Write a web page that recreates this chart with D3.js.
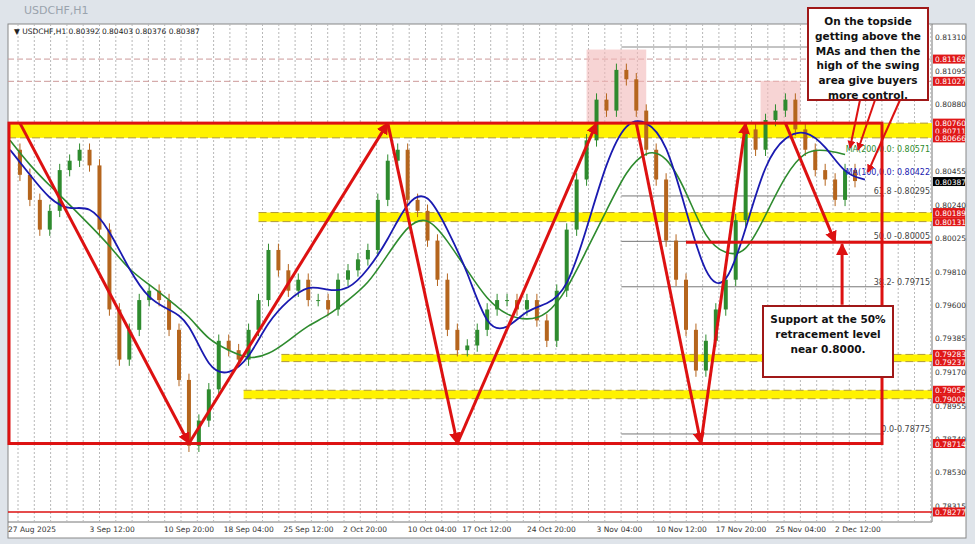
<!DOCTYPE html>
<html lang="en">
<head>
<meta charset="UTF-8" />
<title>USDCHF H1</title>
<script src="https://d3js.org/d3.v7.min.js"></script>
<style>
  body { margin: 0; background: #e9ecf0; font-family: "DejaVu Sans", sans-serif; }
  svg { display: block; }
</style>
</head>
<body>
<svg id="chart" width="975" height="544"></svg>
<script>
// closes every ~2.5 bars (step index -> time)
const closes = [0.8059,0.8043,0.8027,0.8008,0.8020,0.8046,0.8052,0.8059,0.8049,0.8008,
  0.7957,0.7925,0.7944,0.7963,0.7969,0.7963,0.7944,0.7912,0.7870,0.7886,
  0.7906,0.7937,0.7931,0.7925,0.7944,0.7963,0.7995,0.7982,0.7969,0.7976,
  0.7963,0.7963,0.7957,0.7976,0.7982,0.7989,0.7995,0.8027,0.8052,0.8059,
  0.8027,0.8020,0.8001,0.7976,0.7944,0.7931,0.7934,0.7944,0.7957,0.7963,
  0.7963,0.7957,0.7963,0.7950,0.7937,0.7969,0.8008,0.8040,0.8065,0.8091,
  0.8084,0.8110,0.8104,0.8084,0.8059,0.8040,0.8001,0.7976,0.7944,0.7918,
  0.7937,0.7957,0.7976,0.8014,0.8072,0.8059,0.8078,0.8084,0.8091,0.8072,
  0.8059,0.8046,0.8040,0.8027,0.8046,0.8039];
// moving averages sampled every 2 steps
const blueMA = [0.8059,0.8043,0.8027,0.8020,0.8024,0.8008,0.7982,0.7963,0.7957,0.7950,
  0.7918,0.7915,0.7925,0.7950,0.7963,0.7973,0.7969,0.7969,0.7982,0.8001,0.8027,0.8033,
  0.8008,0.7982,0.7944,0.7944,0.7957,0.7960,0.7969,0.8008,0.8052,0.8078,0.8078,
  0.8065,0.8020,0.7976,0.7969,0.8008,0.8052,0.8068,0.8072,0.8062,0.8043,0.8040];
const greenMA = [0.8065,0.8049,0.8036,0.8024,0.8011,0.7998,0.7982,0.7973,0.7963,0.7953,
  0.7937,0.7931,0.7925,0.7928,0.7937,0.7947,0.7953,0.7963,0.7973,0.7992,0.8011,0.8017,
  0.8001,0.7982,0.7963,0.7953,0.7950,0.7953,0.7969,0.7995,0.8020,0.8046,0.8059,
  0.8056,0.8033,0.8001,0.7992,0.7992,0.8017,0.8043,0.8059,0.8059,0.8056];
const tickLabels = ["27 Aug 2025","3 Sep 12:00","10 Sep 20:00","18 Sep 04:00","25 Sep 12:00",
  "2 Oct 20:00","10 Oct 04:00","17 Oct 12:00","24 Oct 20:00","3 Nov 04:00","10 Nov 12:00",
  "17 Nov 20:00","25 Nov 04:00","2 Dec 12:00"];
const tickIdx = [-0.2,8,15.5,21.5,27.5,33.5,40,45.5,52,59,65,71,77,83];
const axisPrices = [0.81310,0.81095,0.80880,0.80455,0.80240,0.80025,0.79810,0.79600,0.79385,0.79170,0.78955,0.78740,0.78530,0.78315];
const redTags = [0.81169,0.81027,0.80760,0.80711,0.80666,0.80189,0.80131,0.79283,0.79237,0.79054,0.79000,0.78714,0.78277];
const lastPrice = 0.80387;
const bands = [[0.80760,0.80666,-0.2],[0.80189,0.80131,25],[0.79283,0.79237,27.3],[0.79054,0.79000,23.5]];
const fibs = [["61.8 -0.80295",0.80295],["50.0 -0.80005",0.80005],["38.2- 0.79715",0.79715],["0.0-0.78775",0.78775]];
const zigzag = [[1,0.8076],[18,0.78714],[38,0.8076],[45,0.78714],[59,0.8076],[63,0.8076],[69.5,0.78714],[74,0.8076],[78,0.8076],[83,0.8000]];
const pinkZones = [[17.5,19.5,0.78714,0.7826],[58,64,0.8076,0.8123],[75.5,79.5,0.8076,0.8103]];

const svg = d3.select("#chart");
const L = 8, R = 932, T = 24, B = 522;
const x = d3.scaleLinear().domain([0, 85]).range([10, 855]);
const y = d3.scaleLinear().domain([0.78315, 0.81310]).range([506, 37]);

svg.append("rect").attr("x", 0).attr("y", 0).attr("width", 975).attr("height", 544).attr("fill", "#dfe4ea");
svg.append("text").attr("x", 24).attr("y", 14).attr("font-size", 11).attr("fill", "#9aa3ad").text("USDCHF,H1");
svg.append("rect").attr("x", L).attr("y", T).attr("width", 958).attr("height", B - T + 16).attr("fill", "#fff").attr("stroke", "#888");
svg.append("line").attr("x1", R).attr("x2", R).attr("y1", T).attr("y2", B).attr("stroke", "#777");
svg.append("line").attr("x1", L).attr("x2", R).attr("y1", B).attr("y2", B).attr("stroke", "#777");

// vertical dotted grid
for (let gx = 18; gx < R; gx += 16.3) {
  svg.append("line").attr("x1", gx).attr("x2", gx).attr("y1", T).attr("y2", B)
    .attr("stroke", "#b8b8b8").attr("stroke-dasharray", "2,2");
}
// dashed reference lines
[0.81169, 0.81027].forEach(p => svg.append("line").attr("x1", L).attr("x2", R).attr("y1", y(p)).attr("y2", y(p))
  .attr("stroke", "#c99").attr("stroke-dasharray", "6,3"));

// pink zones
pinkZones.forEach(z => svg.append("rect").attr("x", x(z[0])).attr("width", x(z[1]) - x(z[0]))
  .attr("y", y(z[3])).attr("height", y(z[2]) - y(z[3])).attr("fill", "#f2b8b8").attr("opacity", 0.6));

// yellow bands
bands.forEach(b => {
  svg.append("rect").attr("x", x(b[2])).attr("width", R - x(b[2])).attr("y", y(b[0])).attr("height", y(b[1]) - y(b[0])).attr("fill", "#fff200");
  [b[0], b[1]].forEach(p => svg.append("line").attr("x1", x(b[2])).attr("x2", R).attr("y1", y(p)).attr("y2", y(p))
    .attr("stroke", "#b09a3a").attr("stroke-dasharray", "8,4"));
});

// fib lines
svg.append("line").attr("x1", x(61.5)).attr("x2", R - 50).attr("y1", 47).attr("y2", 47).attr("stroke", "#888");
fibs.forEach(f => {
  svg.append("line").attr("x1", x(61.5)).attr("x2", R - 48).attr("y1", y(f[1])).attr("y2", y(f[1])).attr("stroke", "#777");
  svg.append("text").attr("x", R - 2).attr("y", y(f[1]) - 2).attr("text-anchor", "end").attr("font-size", 8).attr("fill", "#444").text(f[0]);
});

// candles
const wick = 0.0004;
closes.forEach((c, i) => {
  if (i === 0) return;
  const o = closes[i - 1];
  const up = c >= o;
  const col = up ? "#2e8b2e" : "#b5651d";
  svg.append("line").attr("x1", x(i)).attr("x2", x(i)).attr("y1", y(Math.max(o, c) + wick)).attr("y2", y(Math.min(o, c) - wick)).attr("stroke", col);
  svg.append("rect").attr("x", x(i) - 2).attr("width", 4).attr("y", y(Math.max(o, c))).attr("height", Math.max(1, Math.abs(y(o) - y(c)))).attr("fill", col);
});

// moving averages
const line = d3.line().curve(d3.curveBasis);
svg.append("path").attr("d", line(greenMA.map((v, i) => [x(i * 2), y(v)]))).attr("fill", "none").attr("stroke", "#2e8b2e").attr("stroke-width", 1.6);
svg.append("path").attr("d", line(blueMA.map((v, i) => [x(i * 2), y(v)]))).attr("fill", "none").attr("stroke", "#1a1ab0").attr("stroke-width", 1.8);
svg.append("text").attr("x", R - 2).attr("y", y(0.80571) - 1).attr("text-anchor", "end").attr("font-size", 8).attr("fill", "#2e8b2e").text("MA(200,0.0: 0.80571");
svg.append("text").attr("x", R - 2).attr("y", y(0.80422) - 1).attr("text-anchor", "end").attr("font-size", 8).attr("fill", "#1a1ab0").text("MA(100,0.0: 0.80422");

// red structure
const red = "#dd1111";
svg.append("rect").attr("x", L + 1).attr("y", y(0.8076)).attr("width", 882 - L - 1).attr("height", y(0.78714) - y(0.8076))
  .attr("fill", "none").attr("stroke", red).attr("stroke-width", 3);
svg.append("line").attr("x1", L).attr("x2", R).attr("y1", y(0.78277)).attr("y2", y(0.78277)).attr("stroke", red).attr("stroke-width", 1.5);
svg.append("line").attr("x1", x(68)).attr("x2", R).attr("y1", y(0.8000)).attr("y2", y(0.8000)).attr("stroke", red).attr("stroke-width", 3);

const defs = svg.append("defs");
defs.append("marker").attr("id", "ah").attr("viewBox", "0 0 10 10").attr("refX", 9).attr("refY", 5)
  .attr("markerWidth", 4).attr("markerHeight", 4).attr("orient", "auto")
  .append("path").attr("d", "M0,0L10,5L0,10z").attr("fill", red);
function arrow(x1, y1, x2, y2, w) {
  svg.append("line").attr("x1", x1).attr("y1", y1).attr("x2", x2).attr("y2", y2)
    .attr("stroke", red).attr("stroke-width", w || 3).attr("marker-end", "url(#ah)");
}
for (let i = 0; i < zigzag.length - 1; i++) {
  if (i === 4 || i === 7) continue;
  arrow(x(zigzag[i][0]), y(zigzag[i][1]), x(zigzag[i + 1][0]), y(zigzag[i + 1][1]));
}
arrow(x(83.7), y(0.7960), x(83.7), y(0.8000) + 2, 3);
arrow(860, 100, 850, 148, 2);
arrow(875, 100, 858, 150, 2);
arrow(900, 100, 868, 172, 2);

// text boxes
function box(bx, by, bw, bh, lines) {
  svg.append("rect").attr("x", bx).attr("y", by).attr("width", bw).attr("height", bh).attr("fill", "#fff").attr("stroke", "#a01818").attr("stroke-width", 2);
  lines.forEach((t, i) => svg.append("text").attr("x", bx + bw / 2).attr("y", by + 17 + i * 14.8).attr("text-anchor", "middle")
    .attr("font-size", 10.5).attr("font-weight", "bold").attr("fill", "#111").text(t));
}
box(808, 8, 120, 92, ["On the topside", "getting above the", "MAs and then the", "high of the swing", "area give buyers", "more control."]);
box(763, 306, 130, 71, ["Support at the 50%", "retracement level", "near 0.8000."]);

// right price axis
axisPrices.forEach(p => svg.append("text").attr("x", 935).attr("y", y(p) + 3).attr("font-size", 7.5).attr("fill", "#333").text(p.toFixed(5)));
redTags.forEach(p => {
  svg.append("rect").attr("x", 933).attr("y", y(p) - 4.5).attr("width", 32).attr("height", 9).attr("fill", "#e01818");
  svg.append("text").attr("x", 935).attr("y", y(p) + 3).attr("font-size", 7.5).attr("fill", "#fff").text(p.toFixed(5));
});
svg.append("rect").attr("x", 933).attr("y", y(lastPrice) - 4.5).attr("width", 32).attr("height", 9).attr("fill", "#000");
svg.append("text").attr("x", 935).attr("y", y(lastPrice) + 3).attr("font-size", 7.5).attr("fill", "#fff").text(lastPrice.toFixed(5));

// time axis
tickLabels.forEach((t, i) => svg.append("text").attr("x", x(tickIdx[i])).attr("y", 532).attr("font-size", 7.5).attr("fill", "#333").text(t));

svg.append("text").attr("x", 14).attr("y", 34).attr("font-size", 7.5).attr("fill", "#222").text("▼ USDCHF,H1  0.80392 0.80403 0.80376 0.80387");
</script>
</body>
</html>
